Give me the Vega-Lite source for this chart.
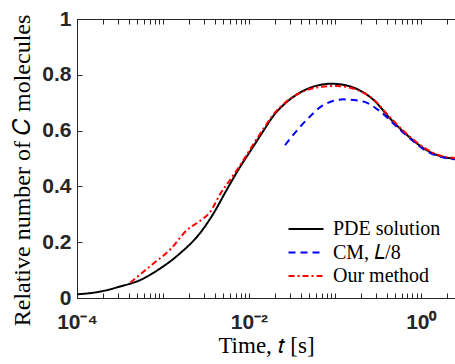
{
  "$schema": "https://vega.github.io/schema/vega-lite/v6.json",
  "width": 378,
  "height": 279,
  "autosize": "none",
  "padding": {"left": 77, "top": 19, "right": 0, "bottom": 66},
  "background": "white",
  "config": {
    "view": {"stroke": "#262626", "strokeWidth": 1},
    "axis": {
      "domainColor": "#262626",
      "tickColor": "#262626",
      "labelColor": "#262626",
      "titleColor": "#000000",
      "labelFont": "Liberation Sans",
      "labelFontWeight": "bold",
      "labelFontSize": 21,
      "titleFont": "Liberation Serif",
      "titleFontWeight": "normal",
      "titleFontSize": 23,
      "grid": false
    }
  },
  "data": {
    "values": [
      {"series": "PDE solution", "t": 0.0001, "v": 0.013},
      {"series": "PDE solution", "t": 0.000186, "v": 0.023},
      {"series": "PDE solution", "t": 0.000316, "v": 0.041},
      {"series": "PDE solution", "t": 0.00055, "v": 0.065},
      {"series": "PDE solution", "t": 0.00093, "v": 0.106},
      {"series": "PDE solution", "t": 0.00158, "v": 0.16},
      {"series": "PDE solution", "t": 0.00269, "v": 0.232},
      {"series": "PDE solution", "t": 0.00389, "v": 0.304},
      {"series": "PDE solution", "t": 0.0055, "v": 0.387},
      {"series": "PDE solution", "t": 0.00794, "v": 0.471},
      {"series": "PDE solution", "t": 0.0112, "v": 0.542},
      {"series": "PDE solution", "t": 0.0148, "v": 0.6},
      {"series": "PDE solution", "t": 0.0195, "v": 0.655},
      {"series": "PDE solution", "t": 0.0263, "v": 0.697},
      {"series": "PDE solution", "t": 0.0355, "v": 0.728},
      {"series": "PDE solution", "t": 0.0501, "v": 0.752},
      {"series": "PDE solution", "t": 0.0708, "v": 0.765},
      {"series": "PDE solution", "t": 0.0891, "v": 0.768},
      {"series": "PDE solution", "t": 0.126, "v": 0.764},
      {"series": "PDE solution", "t": 0.178, "v": 0.75},
      {"series": "PDE solution", "t": 0.282, "v": 0.71},
      {"series": "PDE solution", "t": 0.437, "v": 0.644},
      {"series": "PDE solution", "t": 0.692, "v": 0.584},
      {"series": "PDE solution", "t": 1.17, "v": 0.53},
      {"series": "PDE solution", "t": 1.7, "v": 0.508},
      {"series": "PDE solution", "t": 2.5, "v": 0.499},
      {"series": "CM, 𝐿/8", "t": 0.0263, "v": 0.548},
      {"series": "CM, 𝐿/8", "t": 0.0468, "v": 0.638},
      {"series": "CM, 𝐿/8", "t": 0.0741, "v": 0.692},
      {"series": "CM, 𝐿/8", "t": 0.126, "v": 0.712},
      {"series": "CM, 𝐿/8", "t": 0.214, "v": 0.704},
      {"series": "CM, 𝐿/8", "t": 0.339, "v": 0.668},
      {"series": "CM, 𝐿/8", "t": 0.525, "v": 0.614},
      {"series": "CM, 𝐿/8", "t": 0.741, "v": 0.573},
      {"series": "CM, 𝐿/8", "t": 1.17, "v": 0.526},
      {"series": "CM, 𝐿/8", "t": 1.7, "v": 0.506},
      {"series": "CM, 𝐿/8", "t": 2.5, "v": 0.497},
      {"series": "Our method", "t": 0.000417, "v": 0.055},
      {"series": "Our method", "t": 0.000776, "v": 0.124},
      {"series": "Our method", "t": 0.0012, "v": 0.172},
      {"series": "Our method", "t": 0.00191, "v": 0.244},
      {"series": "Our method", "t": 0.00269, "v": 0.276},
      {"series": "Our method", "t": 0.00355, "v": 0.309},
      {"series": "Our method", "t": 0.00468, "v": 0.375},
      {"series": "Our method", "t": 0.00603, "v": 0.423},
      {"series": "Our method", "t": 0.00794, "v": 0.477},
      {"series": "Our method", "t": 0.0112, "v": 0.55},
      {"series": "Our method", "t": 0.0148, "v": 0.607},
      {"series": "Our method", "t": 0.0195, "v": 0.66},
      {"series": "Our method", "t": 0.0263, "v": 0.7},
      {"series": "Our method", "t": 0.0355, "v": 0.728},
      {"series": "Our method", "t": 0.0501, "v": 0.748},
      {"series": "Our method", "t": 0.0708, "v": 0.757},
      {"series": "Our method", "t": 0.0955, "v": 0.76},
      {"series": "Our method", "t": 0.126, "v": 0.758},
      {"series": "Our method", "t": 0.178, "v": 0.747},
      {"series": "Our method", "t": 0.282, "v": 0.712},
      {"series": "Our method", "t": 0.437, "v": 0.648},
      {"series": "Our method", "t": 0.692, "v": 0.587},
      {"series": "Our method", "t": 1.17, "v": 0.533},
      {"series": "Our method", "t": 1.7, "v": 0.51},
      {"series": "Our method", "t": 2.5, "v": 0.502}
    ]
  },
  "layer": [
    {
      "mark": {"type": "line", "strokeWidth": 2, "interpolate": "monotone", "clip": true},
      "encoding": {
        "x": {
          "field": "t", "type": "quantitative",
          "scale": {"type": "log", "domain": [0.0001, 2.5], "nice": false},
          "axis": {
            "orient": "bottom",
            "title": "Time, 𝑡 [s]",
            "values": [0.0001,0.0002,0.0003,0.0004,0.0005,0.0006,0.0007,0.0008,0.0009,0.001,0.002,0.003,0.004,0.005,0.006,0.007,0.008,0.009,0.01,0.02,0.03,0.04,0.05,0.06,0.07,0.08,0.09,0.1,0.2,0.3,0.4,0.5,0.6,0.7,0.8,0.9,1,2],
            "labelExpr": "abs(log(datum.value)/LN10 + 4) < 0.01 ? '10⁻⁴' : abs(log(datum.value)/LN10 + 2) < 0.01 ? '10⁻²' : abs(log(datum.value)/LN10) < 0.01 ? '10⁰' : ''",
            "labelOverlap": false,
            "labelFlush": false,
            "tickSize": -5,
            "labelPadding": 18,
            "titlePadding": 2
          }
        },
        "y": {
          "field": "v", "type": "quantitative",
          "scale": {"domain": [0, 1], "nice": false},
          "axis": {
            "title": "Relative number of 𝐶 molecules",
            "values": [0, 0.2, 0.4, 0.6, 0.8, 1],
            "format": "~g",
            "tickSize": -5,
            "labelPadding": 11,
            "titleFontSize": 24,
            "titleX": -48,
            "titleY": 151,
            "titleBaseline": "alphabetic"
          }
        },
        "color": {
          "field": "series", "type": "nominal",
          "scale": {"domain": ["PDE solution", "CM, 𝐿/8", "Our method"], "range": ["#000000", "#0000ff", "#ff0000"]},
          "legend": {
            "title": null,
            "orient": "none",
            "legendX": 219,
            "legendY": 200,
            "symbolType": "M-2,0H2",
            "symbolSize": 306,
            "symbolStrokeWidth": 2,
            "labelFont": "Liberation Serif",
            "labelFontSize": 20,
            "labelColor": "#000000",
            "labelOffset": 17,
            "padding": 0,
            "rowPadding": 3.5
          }
        },
        "strokeDash": {
          "field": "series", "type": "nominal",
          "scale": {"domain": ["PDE solution", "CM, 𝐿/8", "Our method"], "range": [[1, 0], [7, 5], [6, 3, 2, 3]]},
          "legend": {"title": null}
        }
      }
    },
    {
      "mark": {"type": "line", "opacity": 0},
      "encoding": {
        "x": {
          "field": "t", "type": "quantitative",
          "axis": {
            "orient": "top",
            "title": null,
            "labels": false,
            "domain": false,
            "values": [0.0001,0.0002,0.0003,0.0004,0.0005,0.0006,0.0007,0.0008,0.0009,0.001,0.002,0.003,0.004,0.005,0.006,0.007,0.008,0.009,0.01,0.02,0.03,0.04,0.05,0.06,0.07,0.08,0.09,0.1,0.2,0.3,0.4,0.5,0.6,0.7,0.8,0.9,1,2],
            "tickSize": -5
          }
        },
        "y": {"field": "v", "type": "quantitative"}
      }
    }
  ],
  "resolve": {"axis": {"x": "independent"}}
}
